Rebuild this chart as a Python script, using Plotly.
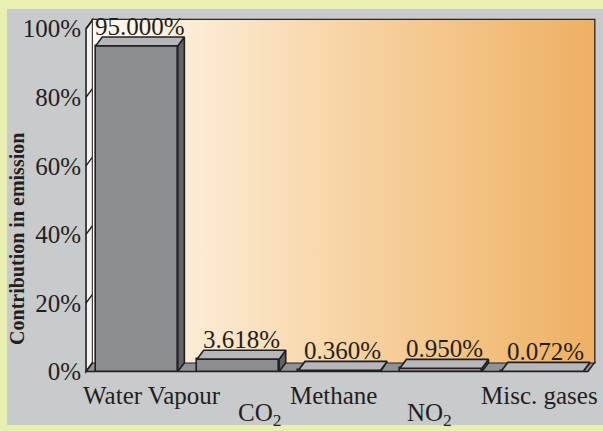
import base64
import plotly.graph_objects as go

# ---- data ----
categories = ['Water Vapour', 'CO<sub>2</sub>', 'Methane', 'NO<sub>2</sub>', 'Misc. gases']
values = [95.0, 3.618, 0.360, 0.950, 0.072]
value_labels = ['95.000%', '3.618%', '0.360%', '0.950%', '0.072%']
y_ticks = [0, 20, 40, 60, 80, 100]
y_tick_labels = ['0%', '20%', '40%', '60%', '80%', '100%']
y_title = 'Contribution in emission'

# ---- style ----
FONT = 'Liberation Serif'
INK = '#231f20'
FS = 25
DX, DY = 0.065, 2.6          # 3D depth in data units
XL, XR = -0.5, 4.45          # front floor edges
BAR_W = 0.81
label_row = [0, 1, 0, 1, 0]
label_xshift = [15, 21, -6, -11, -3]
C_FRONT, C_TOP, C_SIDE = '#8b8c8f', '#b6b7ba', '#626366'

xpos = list(range(len(categories)))

fig = go.Figure()

# front faces (bars)
fig.add_trace(go.Bar(x=xpos, y=values, width=BAR_W, marker=dict(color=C_FRONT, line=dict(color=INK, width=1.6)),
                     hoverinfo='skip', showlegend=False))

# side and top faces
for i, v in zip(xpos, values):
    l, r = i - BAR_W / 2, i + BAR_W / 2
    fig.add_trace(go.Scatter(x=[r, r + DX, r + DX, r, r], y=[0, DY, v + DY, v, 0], fill='toself', mode='lines',
                             fillcolor=C_SIDE, line=dict(color=INK, width=1.6), hoverinfo='skip', showlegend=False))
    fig.add_trace(go.Scatter(x=[l, r, r + DX, l + DX, l], y=[v, v, v + DY, v + DY, v], fill='toself', mode='lines',
                             fillcolor=C_TOP, line=dict(color=INK, width=1.6), hoverinfo='skip', showlegend=False))

shapes = []
# gray panel
shapes.append(dict(type='rect', xref='paper', yref='paper', x0=-0.150, x1=1.02, y0=-0.139, y1=1.0167,
                   fillcolor='#c9cacc', line=dict(width=0), layer='below'))
# back wall outline
shapes.append(dict(type='rect', xref='x', yref='y', x0=XL + DX, x1=XR + DX, y0=DY, y1=100 + DY,
                   line=dict(color=INK, width=2), layer='below'))
# left wall
shapes.append(dict(type='path', xref='x', yref='y',
                   path=f'M {XL},0 L {XL + DX},{DY} L {XL + DX},{100 + DY} L {XL},100 Z',
                   fillcolor='#f4f4f4', line=dict(color=INK, width=1.6), layer='below'))
# floor
shapes.append(dict(type='path', xref='x', yref='y',
                   path=f'M {XL},0 L {XR},0 L {XR + DX},{DY} L {XL + DX},{DY} Z',
                   fillcolor='#909194', line=dict(color=INK, width=1.6), layer='below'))
# gridlines on back wall and slants on left wall
for t in y_ticks[1:-1]:
    shapes.append(dict(type='line', xref='x', yref='y', x0=XL + DX, x1=XR + DX, y0=t + DY, y1=t + DY,
                       line=dict(color=INK, width=1.6), layer='below'))
for t in y_ticks[1:]:
    shapes.append(dict(type='line', xref='x', yref='y', x0=XL, x1=XL + DX, y0=t, y1=t + DY,
                       line=dict(color=INK, width=1.4), layer='below'))

svg = ('<svg xmlns="http://www.w3.org/2000/svg" width="100" height="10" viewBox="0 0 100 10" '
       'preserveAspectRatio="none"><defs><linearGradient id="g" x1="0" x2="1" y1="0" y2="0">'
       '<stop offset="0" stop-color="#fffbf4"/><stop offset="0.45" stop-color="#f8d8ac"/>'
       '<stop offset="1" stop-color="#eeb062"/></linearGradient></defs>'
       '<rect width="100" height="10" fill="url(#g)"/></svg>')
src = 'data:image/svg+xml;base64,' + base64.b64encode(svg.encode()).decode()

annotations = []
for i, v, lab in zip(xpos, values, value_labels):
    annotations.append(dict(x=i + DX / 2, y=v + DY, xref='x', yref='y', text=lab, showarrow=False,
                            xanchor='center', yanchor='bottom', yshift=-5,
                            font=dict(family=FONT, size=FS, color=INK)))
for i, cat, row, xs in zip(xpos, categories, label_row, label_xshift):
    annotations.append(dict(x=i, y=[-0.0556, -0.111][row], xref='x', yref='paper', text=cat, showarrow=False,
                            xanchor='center', yanchor='middle', xshift=xs,
                            font=dict(family=FONT, size=FS, color=INK)))
annotations.append(dict(x=-0.1306, y=0.378, xref='paper', yref='paper', text=f'<b>{y_title}</b>',
                        textangle=-90, showarrow=False, xanchor='center', yanchor='middle',
                        font=dict(family=FONT, size=20, color=INK)))

fig.update_layout(
    width=603, height=431,
    margin=dict(l=84, r=6, t=15, b=56),
    paper_bgcolor='#e8efb0', plot_bgcolor='rgba(0,0,0,0)',
    shapes=shapes, annotations=annotations,
    images=[dict(source=src, xref='x', yref='y', x=XL + DX, y=100 + DY, sizex=XR - XL, sizey=100,
                 xanchor='left', yanchor='top', sizing='stretch', layer='below')],
    xaxis=dict(range=[-0.52, 4.54], visible=False, fixedrange=True, automargin=False),
    yaxis=dict(range=[-1, 104], tickvals=y_ticks, ticktext=y_tick_labels, showgrid=False, zeroline=False,
               showline=False, ticks='', automargin=False, ticklabelstandoff=2, fixedrange=True,
               tickfont=dict(family=FONT, size=FS, color=INK)),
    showlegend=False, bargap=0,
)

fig.write_html('out.html', config={'displayModeBar': False},
               post_script="document.body.style.margin='0';")
